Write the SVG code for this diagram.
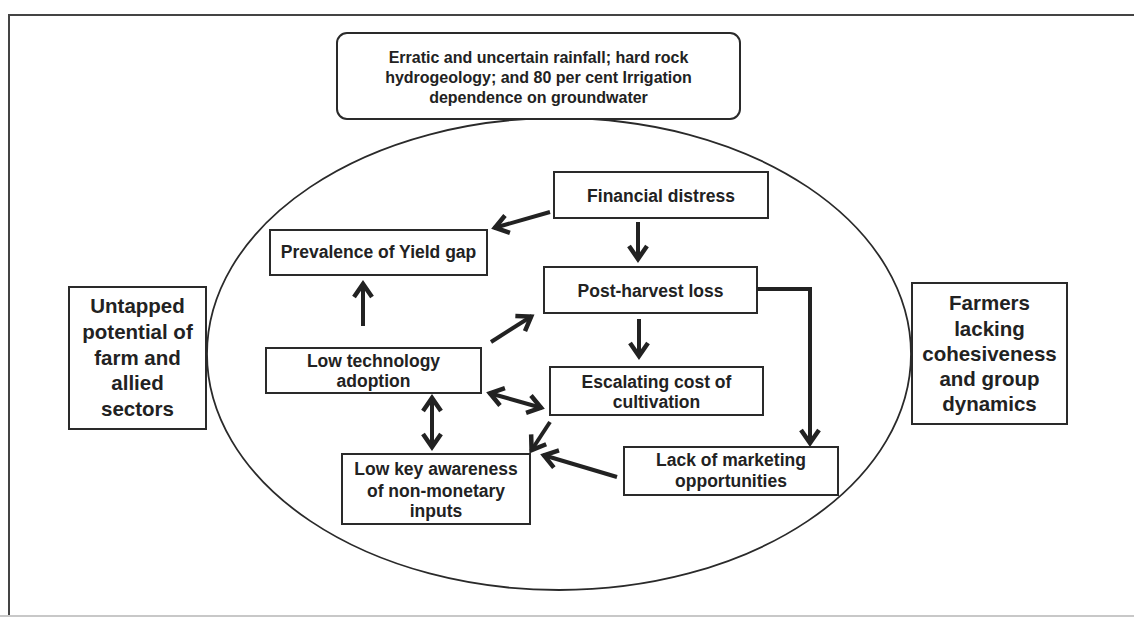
<svg xmlns="http://www.w3.org/2000/svg" width="1134" height="617" viewBox="0 0 1134 617">
<style>
  .bx { fill: #ffffff; stroke: #2a2a2a; stroke-width: 2; }
  .tx { font-family: "Liberation Sans", Arial, sans-serif; font-weight: bold; fill: #222; text-anchor: middle; }
  .t16 { font-size: 16px; }
  .t17 { font-size: 17.5px; }
  .t20 { font-size: 20.5px; }
  .cn { fill: none; stroke: #222; stroke-width: 4; }
  .frame { fill: none; stroke: #444; stroke-width: 2; }
</style>
<defs>
  <marker id="ah" viewBox="-20 -12 24 24" refX="0" refY="0" markerWidth="24" markerHeight="24" markerUnits="userSpaceOnUse" orient="auto-start-reverse">
    <path d="M-14,-9 L-1,0 L-14,9" fill="none" stroke="#222" stroke-width="4.5" stroke-linejoin="miter"/>
  </marker>
</defs>
<rect x="0" y="0" width="1134" height="617" fill="#ffffff"/>
<g id="frame">
  <path class="frame" d="M9,617 L9,15 L1134,15"/>
  <line x1="0" y1="616" x2="1134" y2="616" stroke="#c8c8c8" stroke-width="2"/>
</g>
<g id="boundary">
  <ellipse cx="559" cy="354" rx="352" ry="236" fill="none" stroke="#2a2a2a" stroke-width="1.8"/>
</g>
<g id="constraints">
  <rect class="bx" x="337" y="33" width="403" height="86" rx="10" ry="10" stroke-width="3"/>
  <text class="tx t16" x="538.5" y="63">Erratic and uncertain rainfall; hard rock</text>
  <text class="tx t16" x="538.5" y="83">hydrogeology; and 80 per cent Irrigation</text>
  <text class="tx t16" x="538.5" y="103">dependence on groundwater</text>
</g>
<g id="untapped">
  <rect class="bx" x="69" y="287" width="137" height="142"/>
  <text class="tx t20" x="137.5" y="313">Untapped</text>
  <text class="tx t20" x="137.5" y="339">potential of</text>
  <text class="tx t20" x="137.5" y="365">farm and</text>
  <text class="tx t20" x="137.5" y="390">allied</text>
  <text class="tx t20" x="137.5" y="416">sectors</text>
</g>
<g id="farmers">
  <rect class="bx" x="912" y="283" width="155" height="141"/>
  <text class="tx t20" x="989.5" y="310">Farmers</text>
  <text class="tx t20" x="989.5" y="336">lacking</text>
  <text class="tx t20" x="989.5" y="361">cohesiveness</text>
  <text class="tx t20" x="989.5" y="386">and group</text>
  <text class="tx t20" x="989.5" y="411">dynamics</text>
</g>
<g id="financial">
  <rect class="bx" x="554" y="172" width="214" height="46"/>
  <text class="tx t17" x="661" y="202">Financial distress</text>
</g>
<g id="yieldgap">
  <rect class="bx" x="270" y="230" width="217" height="45"/>
  <text class="tx t17" x="378.5" y="258">Prevalence of Yield gap</text>
</g>
<g id="postharvest">
  <rect class="bx" x="544" y="267" width="213" height="46"/>
  <text class="tx t17" x="650.5" y="297">Post-harvest loss</text>
</g>
<g id="lowtech">
  <rect class="bx" x="266" y="348" width="215" height="45"/>
  <text class="tx t17" x="373.5" y="367">Low technology</text>
  <text class="tx t17" x="373.5" y="387">adoption</text>
</g>
<g id="escalating">
  <rect class="bx" x="550" y="367" width="213" height="48"/>
  <text class="tx t17" x="656.5" y="388">Escalating cost of</text>
  <text class="tx t17" x="656.5" y="408">cultivation</text>
</g>
<g id="marketing">
  <rect class="bx" x="624" y="447" width="214" height="48"/>
  <text class="tx t17" x="731" y="466">Lack of marketing</text>
  <text class="tx t17" x="731" y="487">opportunities</text>
</g>
<g id="lowkey">
  <rect class="bx" x="342" y="454" width="188" height="70"/>
  <text class="tx t17" x="436" y="475">Low key awareness</text>
  <text class="tx t17" x="436" y="497">of non-monetary</text>
  <text class="tx t17" x="436" y="517">inputs</text>
</g>
<g id="connectors">
  <line class="cn" x1="550" y1="212" x2="494" y2="228" marker-end="url(#ah)"/>
  <line class="cn" x1="638" y1="222" x2="638" y2="260" marker-end="url(#ah)"/>
  <line class="cn" x1="363" y1="326" x2="363" y2="283" marker-end="url(#ah)"/>
  <line class="cn" x1="491" y1="342" x2="532" y2="316" marker-end="url(#ah)"/>
  <line class="cn" x1="639" y1="319" x2="639" y2="357" marker-end="url(#ah)"/>
  <polyline class="cn" points="757,289 810,289 810,444" stroke-width="5" marker-end="url(#ah)"/>
  <line class="cn" x1="489" y1="393" x2="542" y2="408" marker-start="url(#ah)" marker-end="url(#ah)"/>
  <line class="cn" x1="432" y1="397" x2="432" y2="448" marker-start="url(#ah)" marker-end="url(#ah)"/>
  <line class="cn" x1="550" y1="422" x2="531" y2="451" marker-end="url(#ah)"/>
  <line class="cn" x1="617" y1="477" x2="543" y2="455" marker-end="url(#ah)"/>
</g>
</svg>
